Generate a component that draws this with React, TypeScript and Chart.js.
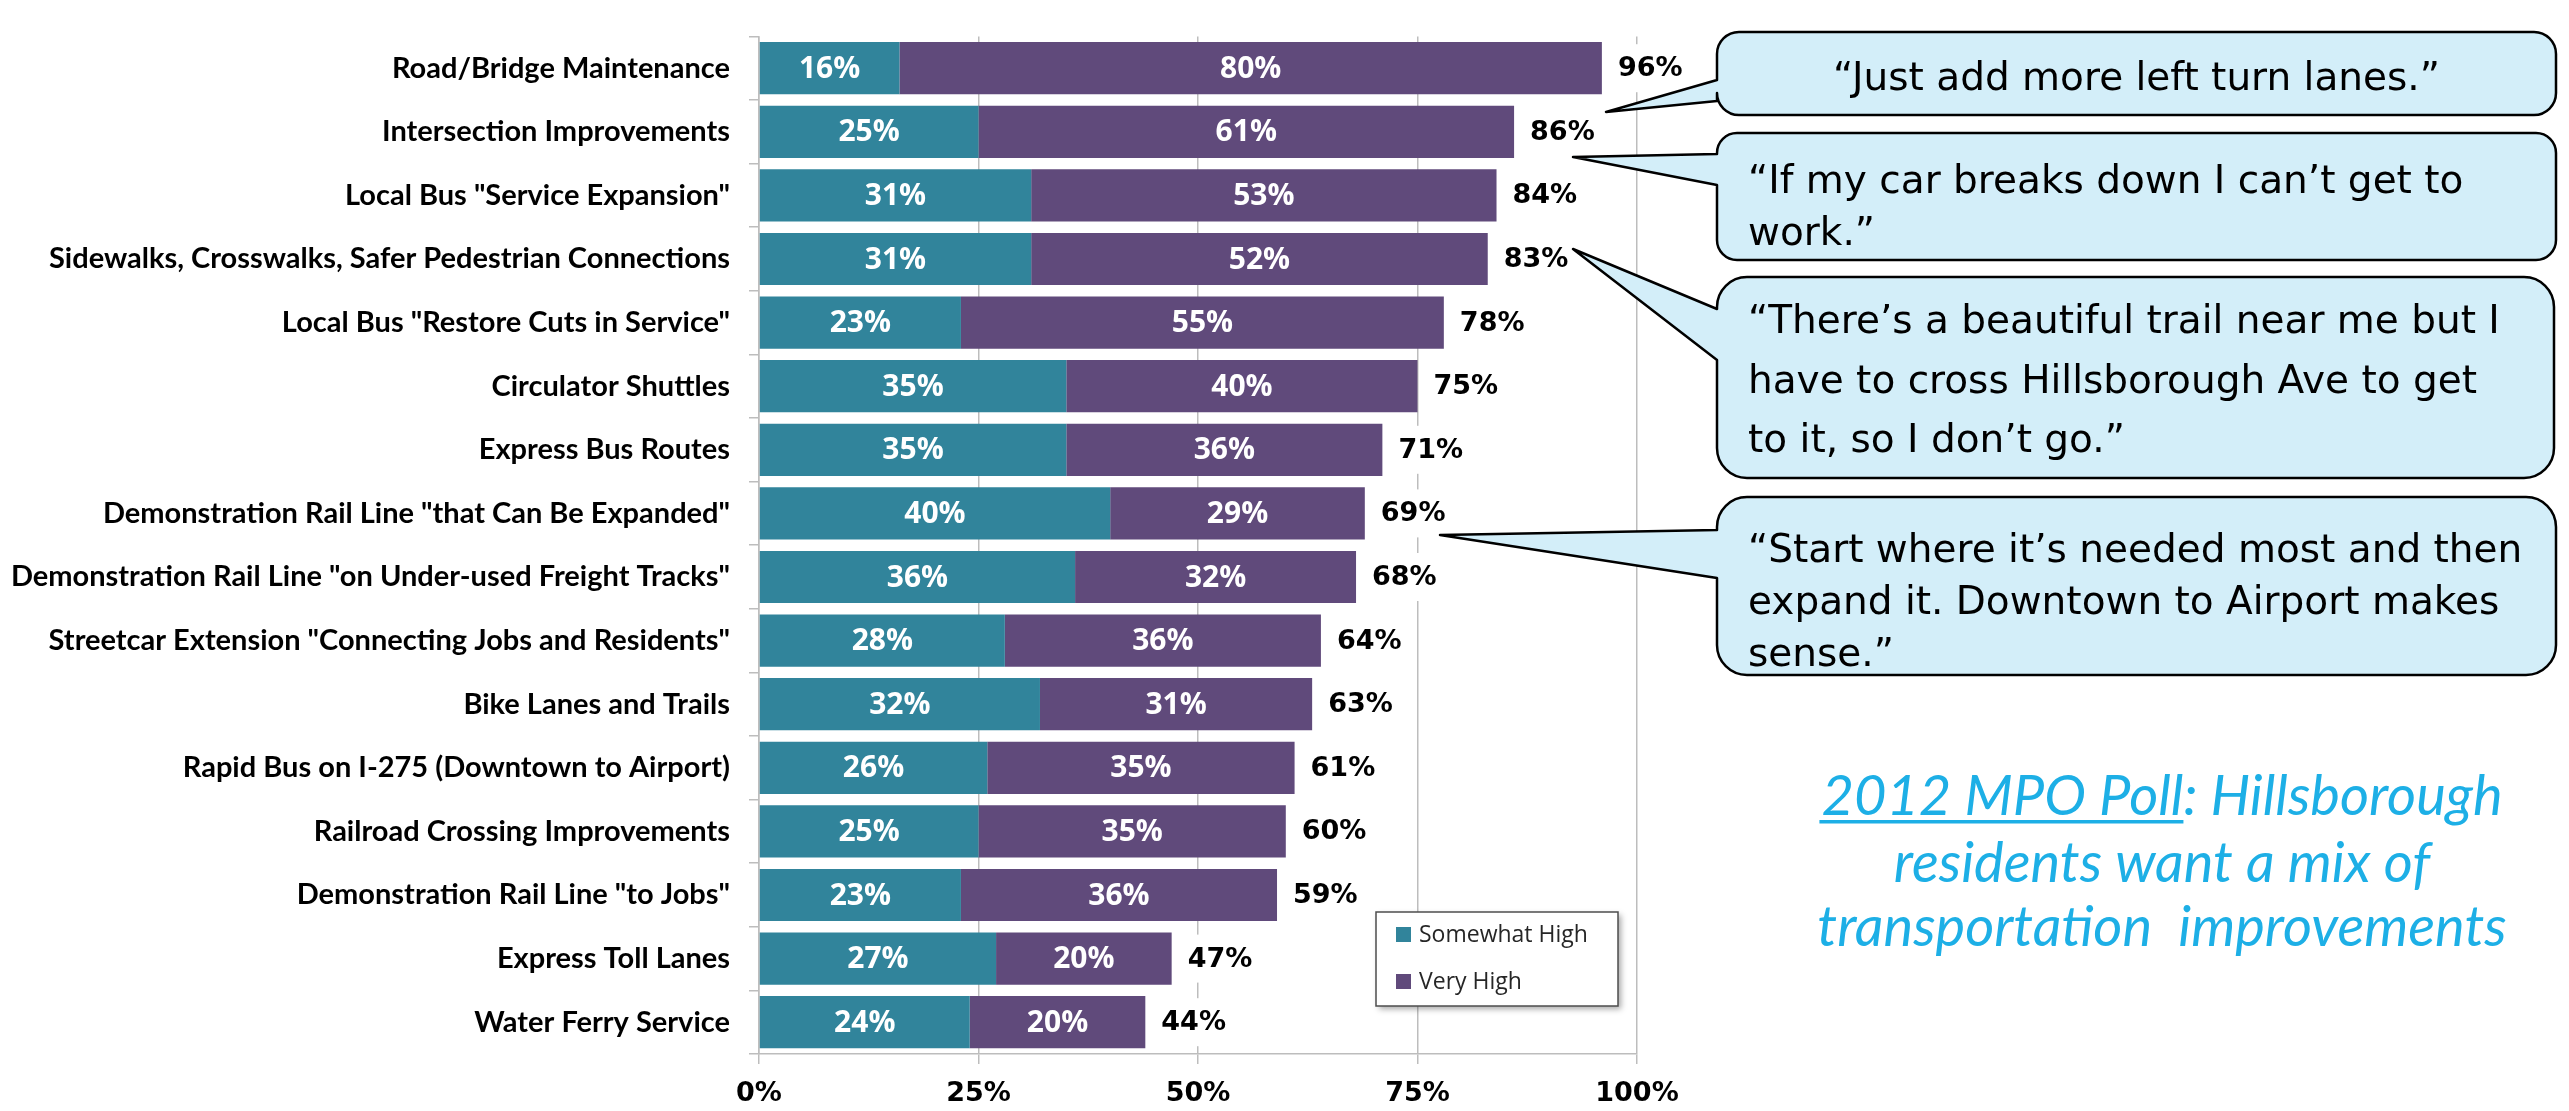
import React, { useEffect, useRef } from "react";
import { Chart, registerables } from "chart.js";

Chart.register(...registerables);

// ---------- data ----------
const categories = [
  "Road/Bridge Maintenance",
  "Intersection Improvements",
  'Local Bus "Service Expansion"',
  "Sidewalks, Crosswalks, Safer Pedestrian Connections",
  'Local Bus "Restore Cuts in Service"',
  "Circulator Shuttles",
  "Express Bus Routes",
  'Demonstration Rail Line "that Can Be Expanded"',
  'Demonstration Rail Line "on Under-used Freight Tracks"',
  'Streetcar Extension "Connecting Jobs and Residents"',
  "Bike Lanes and Trails",
  "Rapid Bus on I-275 (Downtown to Airport)",
  "Railroad Crossing Improvements",
  'Demonstration Rail Line "to Jobs"',
  "Express Toll Lanes",
  "Water Ferry Service",
];
const somewhatHigh = [16, 25, 31, 31, 23, 35, 35, 40, 36, 28, 32, 26, 25, 23, 27, 24];
const veryHigh = [80, 61, 53, 52, 55, 40, 36, 29, 32, 36, 31, 35, 35, 36, 20, 20];
const totals = [96, 86, 84, 83, 78, 75, 71, 69, 68, 64, 63, 61, 60, 59, 47, 44];
const seriesNames = ["Somewhat High", "Very High"];
const xTickValues = [0, 25, 50, 75, 100];

const quote1 = ["\u201CJust add more left turn lanes.\u201D"];
const quote2 = ["\u201CIf my car breaks down I can\u2019t get to", "work.\u201D"];
const quote3 = [
  "\u201CThere\u2019s a beautiful trail near me but I",
  "have to cross Hillsborough Ave to get",
  "to it, so I don\u2019t go.\u201D",
];
const quote4 = [
  "\u201CStart where it\u2019s needed most and then",
  "expand it. Downtown to Airport makes",
  "sense.\u201D",
];
const titleUnderlined = "2012 MPO Poll";
const titleLines = ["2012 MPO Poll: Hillsborough", "residents want a mix of", "transportation  improvements"];

// ---------- layout / style ----------
const W = 2569;
const H = 1111;
const PLOT_LEFT = 759;
const PLOT_RIGHT = 1637;
const PLOT_TOP = 10;
const PLOT_BOTTOM = 1054;
const TEAL = "#31849B";
const PURPLE = "#604A7B";
const GRID = "#BDBDBD";
const CALLOUT_FILL = "#D3EEF9";
const TITLE_COLOR = "#1DAFE6";

type Callout = {
  l: number; t: number; r: number; b: number; rad: number;
  tip: [number, number]; baseTop: number; baseBot: number;
  lines: string[]; baselines: number[]; center?: boolean;
};

const callouts: Callout[] = [
  { l: 1717, t: 32, r: 2556, b: 115, rad: 22, tip: [1606, 112], baseTop: 80, baseBot: 101, lines: quote1, baselines: [90], center: true },
  { l: 1717, t: 133, r: 2556, b: 260, rad: 20, tip: [1573, 157], baseTop: 154, baseBot: 185, lines: quote2, baselines: [193, 245] },
  { l: 1717, t: 277, r: 2554, b: 478, rad: 30, tip: [1573, 249], baseTop: 309, baseBot: 360, lines: quote3, baselines: [333, 393, 452] },
  { l: 1717, t: 497, r: 2556, b: 675, rad: 30, tip: [1440, 535], baseTop: 530, baseBot: 578, lines: quote4, baselines: [562, 614, 666] },
];

function calloutPath(ctx: CanvasRenderingContext2D, c: Callout) {
  const { l, t, r, b, rad } = c;
  ctx.beginPath();
  ctx.moveTo(l, c.baseTop);
  ctx.lineTo(l, t + rad);
  ctx.arcTo(l, t, l + rad, t, rad);
  ctx.lineTo(r - rad, t);
  ctx.arcTo(r, t, r, t + rad, rad);
  ctx.lineTo(r, b - rad);
  ctx.arcTo(r, b, r - rad, b, rad);
  ctx.lineTo(l + rad, b);
  ctx.arcTo(l, b, l, b - rad, rad);
  ctx.lineTo(l, c.baseBot);
  ctx.lineTo(c.tip[0], c.tip[1]);
  ctx.closePath();
}

const labelPlugin = {
  id: "barLabels",
  afterDatasetsDraw(chart: any) {
    const ctx: CanvasRenderingContext2D = chart.ctx;
    ctx.save();
    chart.data.datasets.forEach((ds: any, di: number) => {
      const meta = chart.getDatasetMeta(di);
      meta.data.forEach((bar: any, i: number) => {
        const p = bar.getProps(["x", "base", "y"], true);
        ctx.fillStyle = "#FFFFFF";
        ctx.font = 'bold 30px "Open Sans"';
        ctx.textAlign = "center";
        ctx.textBaseline = "middle";
        ctx.fillText(ds.data[i] + "%", (p.x + p.base) / 2, p.y + 1);
      });
    });
    const last = chart.getDatasetMeta(chart.data.datasets.length - 1);
    last.data.forEach((bar: any, i: number) => {
      const p = bar.getProps(["x", "y"], true);
      const text = totals[i] + "%";
      ctx.font = 'bold 27px "DejaVu Sans"';
      const w = ctx.measureText(text).width;
      const tx = p.x + 16;
      ctx.fillStyle = "#FFFFFF";
      ctx.fillRect(tx - 3, p.y - 24, w + 6, 48);
      ctx.fillStyle = "#000000";
      ctx.textAlign = "left";
      ctx.textBaseline = "middle";
      ctx.fillText(text, tx, p.y + 1);
    });
    ctx.restore();
  },
};

const annotationPlugin = {
  id: "annotations",
  afterDraw(chart: any) {
    const ctx: CanvasRenderingContext2D = chart.ctx;
    ctx.save();

    // legend
    const lx = 1376, ly = 912, lw = 242, lh = 94;
    ctx.save();
    ctx.shadowColor = "rgba(0,0,0,0.35)";
    ctx.shadowBlur = 6;
    ctx.shadowOffsetX = 3;
    ctx.shadowOffsetY = 3;
    ctx.fillStyle = "#FFFFFF";
    ctx.fillRect(lx, ly, lw, lh);
    ctx.restore();
    ctx.strokeStyle = "#4D4D4D";
    ctx.lineWidth = 1.5;
    ctx.strokeRect(lx, ly, lw, lh);
    const itemYs = [935, 982];
    chart.data.datasets.forEach((ds: any, di: number) => {
      const cy = itemYs[di];
      ctx.fillStyle = ds.backgroundColor;
      ctx.fillRect(1396, cy - 8, 15, 15);
      ctx.fillStyle = "#262626";
      ctx.font = '23px "Open Sans"';
      ctx.textAlign = "left";
      ctx.textBaseline = "middle";
      ctx.fillText(ds.label, 1419, cy);
    });

    // callouts
    callouts.forEach((c) => {
      calloutPath(ctx, c);
      ctx.fillStyle = CALLOUT_FILL;
      ctx.fill();
      ctx.strokeStyle = "#000000";
      ctx.lineWidth = 2.5;
      ctx.lineJoin = "round";
      ctx.stroke();
      ctx.fillStyle = "#000000";
      ctx.font = '39px "DejaVu Sans"';
      ctx.textBaseline = "alphabetic";
      c.lines.forEach((line, k) => {
        if (c.center) {
          ctx.textAlign = "center";
          ctx.fillText(line, (c.l + c.r) / 2, c.baselines[k]);
        } else {
          ctx.textAlign = "left";
          ctx.fillText(line, 1748, c.baselines[k]);
        }
      });
    });

    // title text
    const cx = 2162;
    const baselines = [815, 882, 946];
    ctx.fillStyle = TITLE_COLOR;
    ctx.font = 'italic 56px "Lato"';
    ctx.textBaseline = "alphabetic";
    ctx.textAlign = "center";
    titleLines.forEach((line, k) => ctx.fillText(line, cx, baselines[k]));
    const w0 = ctx.measureText(titleLines[0]).width;
    const wu = ctx.measureText(titleUnderlined).width;
    const sx = cx - w0 / 2;
    ctx.fillRect(sx - 2, 820, wu + 2, 3.5);

    ctx.restore();
  },
};

export default function App() {
  const ref = useRef<HTMLCanvasElement | null>(null);
  useEffect(() => {
    if (!ref.current) return;
    const chart = new Chart(ref.current, {
      type: "bar",
      data: {
        labels: categories,
        datasets: [
          { label: seriesNames[0], data: somewhatHigh, backgroundColor: TEAL, borderWidth: 0, barPercentage: 0.82, categoryPercentage: 1 },
          { label: seriesNames[1], data: veryHigh, backgroundColor: PURPLE, borderWidth: 0, barPercentage: 0.82, categoryPercentage: 1 },
        ],
      },
      options: {
        indexAxis: "y",
        responsive: false,
        animation: false,
        devicePixelRatio: 1,
        layout: { padding: { left: 0, top: PLOT_TOP, right: W - PLOT_RIGHT, bottom: 0 } },
        plugins: { legend: { display: false }, tooltip: { enabled: false } },
        scales: {
          x: {
            type: "linear",
            stacked: true,
            min: 0,
            max: 100,
            afterBuildTicks: (s: any) => {
              s.ticks = xTickValues.map((v) => ({ value: v }));
            },
            afterFit: (s: any) => {
              s.height = H - PLOT_BOTTOM;
            },
            ticks: {
              callback: (v: any) => v + "%",
              font: { family: "DejaVu Sans", weight: "bold", size: 27 },
              color: "#000000",
              padding: 14,
              maxRotation: 0,
            },
            grid: { color: GRID, lineWidth: 1.5, tickLength: 10, drawTicks: true },
            border: { color: GRID, width: 1.5 },
          },
          y: {
            type: "category",
            stacked: true,
            afterFit: (s: any) => {
              s.width = PLOT_LEFT;
            },
            ticks: {
              font: { family: "Lato", weight: "bold", size: 29 },
              color: "#000000",
              padding: 19,
              autoSkip: false,
            },
            grid: { display: true, drawOnChartArea: false, tickLength: 10, color: GRID, lineWidth: 1.5, offset: true },
            border: { color: GRID, width: 1.5 },
          },
        },
      } as any,
      plugins: [labelPlugin, annotationPlugin],
    });
    return () => chart.destroy();
  }, []);

  return (
    <div style={{ position: "absolute", left: 0, top: 0, width: W, height: H, background: "#FFFFFF" }}>
      <canvas ref={ref} width={W} height={H} style={{ width: W, height: H, display: "block" }} />
    </div>
  );
}
